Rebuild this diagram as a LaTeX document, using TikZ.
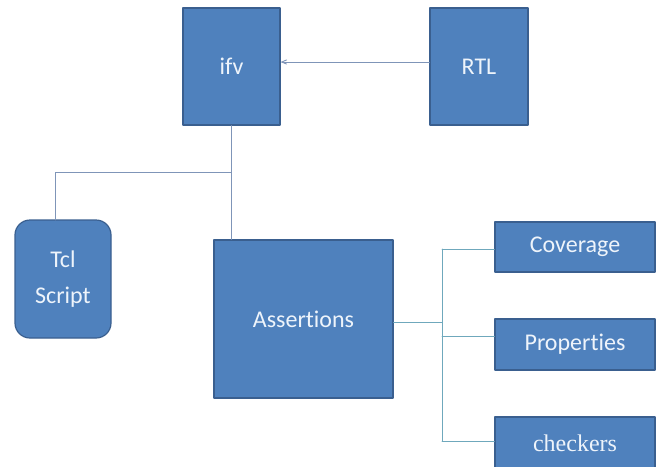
\documentclass[tikz,border=0pt]{standalone}
\usepackage{fontspec}
\setmainfont{Carlito}[Ligatures={NoCommon,NoDiscretionary}]
\newfontfamily\timesfont{Liberation Serif}
\usetikzlibrary{arrows}
\definecolor{boxblue}{HTML}{4F81BD}
\definecolor{boxedge}{HTML}{3A5F8F}
\definecolor{linkgrey}{HTML}{7F95B8}
\definecolor{linkteal}{HTML}{6FA8BC}
\definecolor{boxtext}{HTML}{EEF4FB}
\tikzset{
  block/.style={rectangle,draw=boxedge,fill=boxblue,line width=1.2pt,text=boxtext,
    font=\fontsize{24}{36}\selectfont,align=center,inner sep=0pt},
  link/.style={draw=linkgrey,line width=0.9pt},
  branch/.style={draw=linkteal,line width=0.8pt}
}

\begin{document}
\begin{tikzpicture}[line cap=round,line join=round,>=angle 45,x=1pt,y=-1pt]
    \clip(0,0) rectangle (660,466);
    \draw(231.5,66.5) node[block,minimum width=97,minimum height=117] (ifv) {ifv};
    \draw(479,66.5) node[block,minimum width=98,minimum height=117] (rtl) {RTL};
    \draw(63,279) node[block,rounded corners=15pt,minimum width=96,minimum height=118] (tcl) {Tcl\\Script};
    \draw(303.5,319) node[block,minimum width=179,minimum height=158] (asrt) {Assertions};
    \draw(575,247) node[block,minimum width=160,minimum height=50] (cov) {Coverage};
    \draw(575,344.5) node[block,minimum width=160,minimum height=51] (prop) {Properties};
    \draw(575,443) node[block,minimum width=160,minimum height=52,font=\timesfont\fontsize{24}{27}\selectfont] (chk) {checkers};

    % Links
    \coordinate (fork) at (231,172);
    \coordinate (split) at (442,322);
    \draw[link,->] (rtl.west |- 0,62) -- (ifv.east |- 0,62);
    \draw[link] (ifv.south) -- (ifv.south |- asrt.north);
    \draw[link] (fork) -- (55,172) -- (55,220);

    % Branches
    \draw[branch] (asrt.east |- split) -- (split);
    \draw[branch] (442,249) -- (442,441);
    \foreach \target/\y in {cov/249, prop/336, chk/441} {
            \draw[branch] (442,\y) -- (\target.west |- 0,\y);
        }
\end{tikzpicture}
\end{document}
